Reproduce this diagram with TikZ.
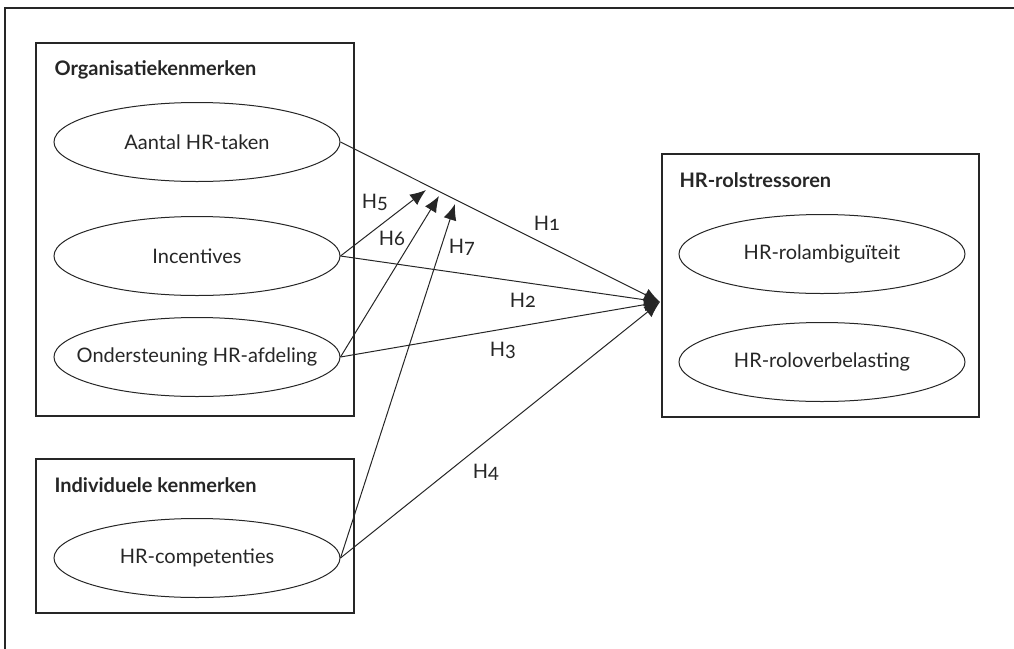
\documentclass[tikz,border=0pt]{standalone}
\usepackage{fontspec}
\setmainfont{Lato}[Numbers=OldStyle]
\usepackage{tikz}
\usetikzlibrary{shapes.geometric,arrows.meta}
\newcommand{\inell}[1]{\makebox[0pt]{#1}}

\begin{document}
\begin{tikzpicture}[x=0.5pt,y=-0.5pt,line width=0.5pt,
   font=\fontsize{10}{12}\selectfont,color=black!85,
   var/.style={draw,ellipse,minimum width=143pt,minimum height=39.5pt,inner sep=0pt},
   group/.style={draw,rectangle,line width=0.7pt,inner sep=0pt},
   grouptitle/.style={anchor=west,inner sep=0pt,font=\fontsize{10}{12}\selectfont\bfseries},
   hyp/.style={-{Latex[length=8pt,width=6.5pt]}},
   hlabel/.style={inner sep=0pt}]
\useasboundingbox (0,0) rectangle (1014,649);
\draw[line width=0.7pt] (5,649) -- (5,8) -- (1014,8);

\node[group,minimum width=159pt,minimum height=186.5pt] (orgbox) at (195,229.5) {};
\node[group,minimum width=159pt,minimum height=77pt] (indbox) at (195,536) {};
\node[group,minimum width=158.5pt,minimum height=131.5pt] (rolbox) at (820.5,285.5) {};

\node[grouptitle] (orgtitle) at (54,70) {Organisatiekenmerken};
\node[grouptitle] (indtitle) at (54,485) {Individuele kenmerken};
\node[grouptitle] (roltitle) at (679,180) {HR-rolstressoren};

\node[var] (taken) at (197,142) {\inell{Aantal HR-taken}};
\node[var] (incent) at (197,256) {\inell{Incentives}};
\node[var] (onder) at (197,357) {\inell{Ondersteuning HR-afdeling}};
\node[var] (comp) at (197,558) {\inell{HR-competenties}};
\node[var] (ambi) at (822,254) {\inell{HR-rolambiguïteit}};
\node[var] (over) at (822,362) {\inell{HR-roloverbelasting}};

\coordinate (stress) at (660,302);
\coordinate (mod5) at (426,190);
\coordinate (mod6) at (439,196);
\coordinate (mod7) at (455,204);

\draw[hyp] (taken.east) -- (stress);
\draw[hyp] (incent.east) -- (stress);
\draw[hyp] (onder.east) -- (stress);
\draw[hyp] (comp.east) -- (stress);
\draw[hyp] (incent.east) -- (mod5);
\draw[hyp] (onder.east) -- (mod6);
\draw[hyp] (comp.east) -- (mod7);

\node[hlabel] (h1) at (547,223) {H1};
\node[hlabel] (h2) at (523,300) {H2};
\node[hlabel] (h3) at (503,350) {H3};
\node[hlabel] (h4) at (486,472) {H4};
\node[hlabel] (h5) at (375,202) {H5};
\node[hlabel] (h6) at (392,238) {H6};
\node[hlabel] (h7) at (462,247) {H7};
\end{tikzpicture}
\end{document}
